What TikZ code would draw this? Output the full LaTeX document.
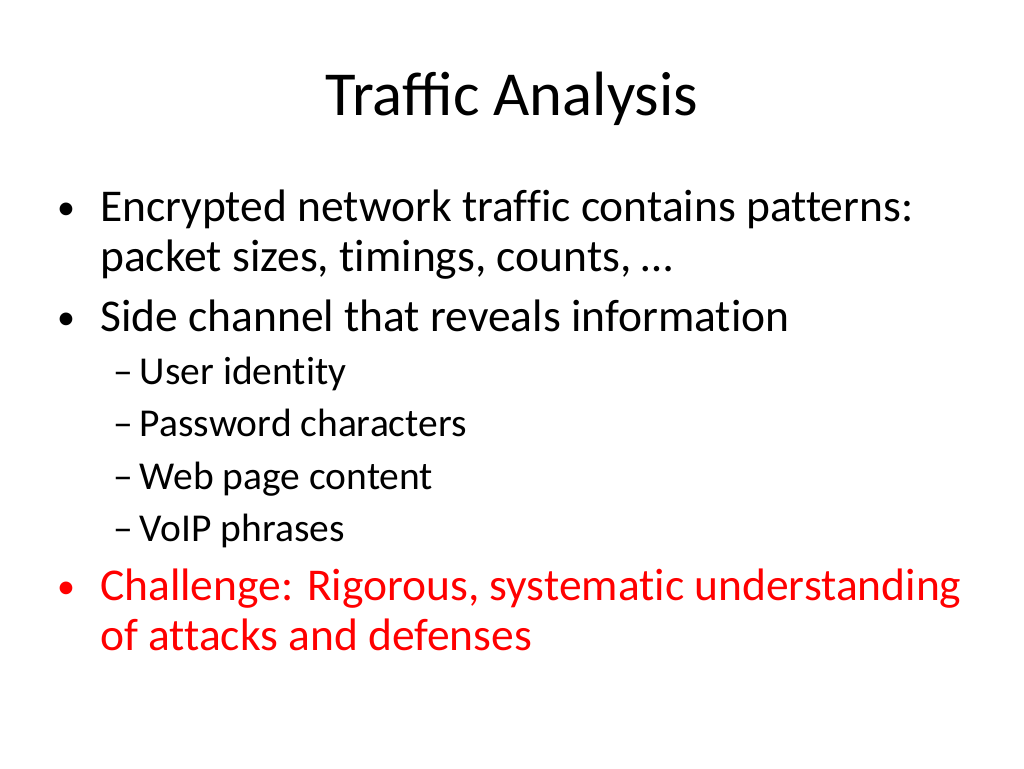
\documentclass[tikz,border=0pt]{standalone}
\usepackage{fontspec}
\setmainfont{Carlito}
\newfontfamily\bodyf{Carlito}[Ligatures=NoCommon]
\begin{document}
\begin{tikzpicture}[x=1pt,y=1pt,
 body/.style={anchor=base west,inner sep=0,font=\bodyf\fontsize{45.5}{46}\selectfont},
 bul/.style={anchor=base west,inner sep=0,font=\fontsize{36}{36}\selectfont},
 sub/.style={anchor=base west,inner sep=0,font=\bodyf\fontsize{39.5}{40}\selectfont}]
\useasboundingbox (0,0) rectangle (1024,768);
\node[anchor=base,inner sep=0,font=\fontsize{62.6}{63}\selectfont] (title) at (512,768-116) {Traffic Analysis};
\node[bul] (b1) at (57,768-220) {•};
\node[body] (l1) at (100,768-222) {Encrypted network traffic contains patterns:};
\node[body] (l2) at (100,768-272) {packet sizes, timings, counts, …};
\node[bul] (b2) at (57,768-330) {•};
\node[body] (l3) at (100,768-332) {Side channel that reveals information};
\node[sub] (s1) at (113,768-385) {–\hspace{7pt}User identity};
\node[sub] (s2) at (113,768-437) {–\hspace{7pt}Password characters};
\node[sub] (s3) at (113,768-490) {–\hspace{7pt}Web page content};
\node[sub] (s4) at (113,768-542) {–\hspace{7pt}VoIP phrases};
\node[bul,red] (b3) at (57,768-599) {•};
\node[body,red] (l4) at (100,768-601) {Challenge: Rigorous, systematic understanding};
\node[body,red] (l5) at (100,768-650) {of attacks and defenses};
\end{tikzpicture}
\end{document}
